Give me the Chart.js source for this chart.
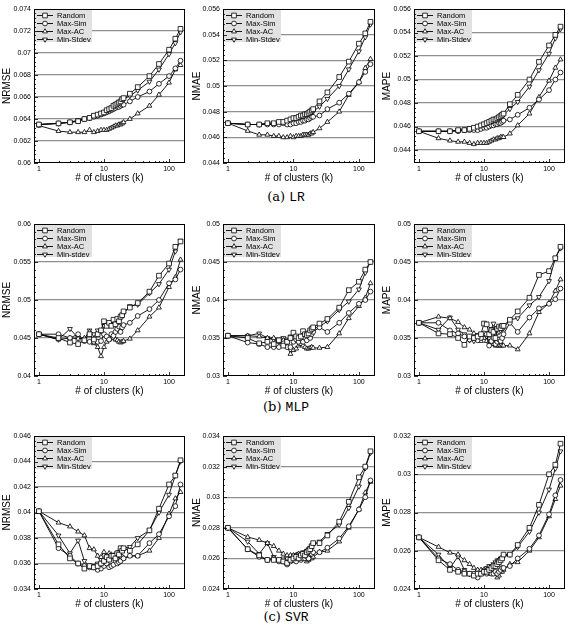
<!DOCTYPE html>
<html>
<head>
<meta charset="utf-8">
<script src="https://cdn.jsdelivr.net/npm/chart.js@4.4.1/dist/chart.umd.min.js"></script>
<style>
  body { margin: 0; background: #fff; width: 572px; height: 629px; position: relative; overflow: hidden; }
  canvas { position: absolute; }
  .cap { position: absolute; left: 0; width: 572px; text-align: center; font: 13px "DejaVu Serif", "Liberation Serif", serif; line-height: 16px; color: #000; }
  .cap .tt { font-family: "Liberation Mono", "DejaVu Sans Mono", monospace; }
</style>
</head>
<body>
<div class="cap" style="top:189px">(a) <span class="tt">LR</span></div>
<div class="cap" style="top:399px">(b) <span class="tt">MLP</span></div>
<div class="cap" style="top:609px">(c) <span class="tt">SVR</span></div>
<script>
// number of clusters (x values, shared by every panel)
const K = [1,2,3,4,5,6,7,8,9,10,11,12,13,14,15,16,17,18,19,20,25,33,50,70,100,125,150];

const NAMES = ['Random', 'Max-Sim', 'Max-AC', 'Min-Stdev'];
const NAMES_MLP_NRMSE = ['Random', 'Max-Sim', 'Max-AC', 'Min-stdev'];
const X_TICKS = [1, 10, 100];

// ---- (a) LR ----
const LR_NRMSE_TICKS = ['0.06','0.062','0.064','0.066','0.068','0.07','0.072','0.074'];
const LR_NRMSE_RANDOM = [.0635,.0636,.0637,.0638,.0640,.0641,.0643,.0644,.0645,.0646,.0648,.0649,.0650,.0652,.0653,.0654,.0655,.0656,.0658,.0659,.0663,.0669,.0679,.0690,.0703,.0713,.0722];
const LR_NRMSE_MAXSIM = [.0635,.0636,.0637,.0638,.0640,.0641,.0642,.0643,.0644,.0645,.0646,.0647,.0648,.0649,.0650,.0651,.0651,.0652,.0653,.0653,.0656,.0660,.0665,.0672,.0679,.0686,.0693];
const LR_NRMSE_MAXAC = [.0634,.0629,.0628,.0628,.0628,.0630,.0628,.0629,.0630,.0630,.0630,.0631,.0632,.0633,.0634,.0634,.0635,.0635,.0636,.0637,.0640,.0645,.0652,.0662,.0673,.0685,.0689];
const LR_NRMSE_MINSTD = [.0635,.0636,.0637,.0639,.0640,.0641,.0643,.0644,.0645,.0646,.0647,.0648,.0650,.0651,.0652,.0653,.0654,.0655,.0656,.0658,.0661,.0666,.0674,.0685,.0699,.0709,.0719];

const LR_NMAE_TICKS = ['0.044','0.046','0.048','0.05','0.052','0.054','0.056'];
const LR_NMAE_RANDOM = [.0471,.0470,.0470,.0471,.0471,.0472,.0472,.0473,.0474,.0475,.0475,.0476,.0477,.0477,.0478,.0478,.0479,.0480,.0481,.0482,.0488,.0495,.0507,.0519,.0533,.0541,.0550];
const LR_NMAE_MAXSIM = [.0471,.0470,.0470,.0470,.0470,.0470,.0471,.0470,.0470,.0471,.0471,.0472,.0472,.0473,.0473,.0474,.0474,.0475,.0476,.0476,.0477,.0482,.0487,.0494,.0503,.0511,.0517];
const LR_NMAE_MAXAC = [.0471,.0465,.0462,.0462,.0461,.0461,.0460,.0460,.0461,.0460,.0461,.0461,.0461,.0462,.0462,.0462,.0462,.0463,.0463,.0464,.0467,.0472,.0480,.0493,.0503,.0514,.0521];
const LR_NMAE_MINSTD = [.0471,.0470,.0470,.0471,.0471,.0471,.0472,.0472,.0473,.0474,.0474,.0475,.0476,.0476,.0477,.0477,.0478,.0479,.0479,.0480,.0484,.0490,.0500,.0513,.0527,.0538,.0548];

const LR_MAPE_TICKS = ['0.044','0.046','0.048','0.05','0.052','0.054','0.056'];
const LR_MAPE_RANDOM = [.0456,.0456,.0456,.0457,.0457,.0458,.0459,.0460,.0461,.0462,.0463,.0464,.0465,.0466,.0466,.0467,.0468,.0469,.0470,.0471,.0479,.0487,.0500,.0515,.0529,.0538,.0545];
const LR_MAPE_MAXSIM = [.0456,.0456,.0456,.0456,.0457,.0457,.0457,.0457,.0458,.0459,.0459,.0460,.0461,.0461,.0462,.0462,.0463,.0463,.0464,.0465,.0466,.0470,.0476,.0483,.0491,.0500,.0506];
const LR_MAPE_MAXAC = [.0456,.0450,.0448,.0447,.0447,.0446,.0445,.0446,.0446,.0446,.0446,.0447,.0448,.0449,.0449,.0450,.0450,.0451,.0451,.0451,.0454,.0461,.0471,.0485,.0499,.0510,.0517];
const LR_MAPE_MINSTD = [.0456,.0456,.0456,.0457,.0457,.0458,.0458,.0459,.0460,.0460,.0461,.0462,.0463,.0464,.0464,.0465,.0466,.0467,.0468,.0470,.0475,.0481,.0494,.0508,.0522,.0535,.0543];

// ---- (b) MLP ----
const MLP_NRMSE_TICKS = ['0.04','0.045','0.05','0.055','0.06'];
const MLP_NRMSE_RANDOM = [.0455,.0450,.0444,.0442,.0447,.0455,.0448,.0455,.0460,.0472,.0466,.0470,.0466,.0474,.0468,.0475,.0472,.0478,.0480,.0485,.0490,.0496,.0511,.0532,.0548,.0570,.0577];
const MLP_NRMSE_MAXSIM = [.0455,.0455,.0450,.0455,.0446,.0445,.0445,.0445,.0446,.0455,.0452,.0448,.0455,.0453,.0458,.0462,.0465,.0458,.0464,.0467,.0470,.0479,.0488,.0500,.0522,.0527,.0540];
const MLP_NRMSE_MAXAC = [.0455,.0448,.0450,.0449,.0450,.0458,.0443,.0438,.0426,.0438,.0445,.0448,.0450,.0450,.0448,.0447,.0445,.0444,.0445,.0446,.0449,.0460,.0478,.0490,.0517,.0530,.0553];
const MLP_NRMSE_MINSTD = [.0455,.0448,.0462,.0450,.0448,.0460,.0455,.0460,.0459,.0466,.0468,.0467,.0469,.0470,.0471,.0470,.0473,.0476,.0479,.0482,.0492,.0494,.0509,.0521,.0540,.0564,.0578];

const MLP_NMAE_TICKS = ['0.03','0.035','0.04','0.045','0.05'];
const MLP_NMAE_RANDOM = [.0353,.0350,.0343,.0345,.0342,.0347,.0340,.0345,.0350,.0357,.0352,.0350,.0352,.0359,.0355,.0354,.0356,.0360,.0362,.0364,.0369,.0375,.0390,.0413,.0424,.0440,.0450];
const MLP_NMAE_MAXSIM = [.0353,.0344,.0342,.0338,.0338,.0338,.0343,.0338,.0338,.0345,.0348,.0345,.0349,.0345,.0350,.0347,.0352,.0350,.0355,.0358,.0364,.0358,.0370,.0383,.0395,.0400,.0411];
const MLP_NMAE_MAXAC = [.0353,.0353,.0352,.0350,.0350,.0345,.0347,.0340,.0329,.0334,.0336,.0340,.0342,.0340,.0338,.0336,.0336,.0337,.0338,.0337,.0337,.0338,.0356,.0376,.0392,.0403,.0422];
const MLP_NMAE_MINSTD = [.0353,.0353,.0356,.0350,.0348,.0345,.0350,.0347,.0352,.0350,.0351,.0352,.0351,.0350,.0353,.0355,.0356,.0358,.0360,.0362,.0365,.0372,.0387,.0398,.0414,.0436,.0450];

const MLP_MAPE_TICKS = ['0.03','0.035','0.04','0.045','0.05'];
const MLP_MAPE_RANDOM = [.0370,.0356,.0355,.0350,.0341,.0352,.0350,.0352,.0355,.0369,.0368,.0355,.0360,.0358,.0350,.0362,.0365,.0363,.0366,.0366,.0374,.0385,.0403,.0433,.0438,.0455,.0470];
const MLP_MAPE_MAXSIM = [.0370,.0370,.0360,.0356,.0352,.0348,.0350,.0347,.0350,.0356,.0355,.0340,.0346,.0350,.0342,.0345,.0348,.0346,.0350,.0355,.0370,.0358,.0377,.0389,.0395,.0401,.0415];
const MLP_MAPE_MAXAC = [.0370,.0378,.0376,.0371,.0364,.0361,.0356,.0350,.0346,.0350,.0346,.0345,.0342,.0342,.0340,.0340,.0340,.0340,.0340,.0340,.0340,.0335,.0356,.0384,.0396,.0412,.0427];
const MLP_MAPE_MINSTD = [.0370,.0361,.0377,.0361,.0355,.0347,.0346,.0354,.0353,.0355,.0352,.0357,.0362,.0369,.0360,.0357,.0358,.0360,.0362,.0363,.0374,.0376,.0393,.0404,.0425,.0455,.0468];

// ---- (c) SVR ----
const SVR_NRMSE_TICKS = ['0.034','0.036','0.038','0.04','0.042','0.044','0.046'];
const SVR_NRMSE_RANDOM = [.0401,.0375,.0364,.0360,.0356,.0358,.0357,.0358,.0360,.0362,.0365,.0363,.0366,.0366,.0364,.0368,.0367,.0372,.0370,.0372,.0370,.0375,.0386,.0403,.0422,.0429,.0441];
const SVR_NRMSE_MAXSIM = [.0401,.0372,.0366,.0360,.0358,.0357,.0357,.0355,.0356,.0358,.0360,.0357,.0358,.0359,.0362,.0360,.0361,.0362,.0365,.0364,.0366,.0366,.0376,.0383,.0397,.0405,.0422];
const SVR_NRMSE_MAXAC = [.0401,.0392,.0389,.0385,.0382,.0372,.0371,.0366,.0365,.0369,.0366,.0368,.0367,.0366,.0364,.0364,.0368,.0366,.0365,.0364,.0366,.0366,.0370,.0380,.0399,.0411,.0416];
const SVR_NRMSE_MINSTD = [.0401,.0382,.0368,.0378,.0362,.0358,.0358,.0360,.0363,.0364,.0365,.0366,.0366,.0365,.0367,.0368,.0369,.0370,.0371,.0372,.0373,.0380,.0386,.0400,.0414,.0429,.0440];

const SVR_NMAE_TICKS = ['0.024','0.026','0.028','0.03','0.032','0.034'];
const SVR_NMAE_RANDOM = [.0280,.0266,.0262,.0259,.0259,.0259,.0258,.0257,.0259,.0260,.0261,.0260,.0262,.0263,.0262,.0264,.0265,.0266,.0268,.0270,.0270,.0275,.0284,.0297,.0313,.0320,.0330];
const SVR_NMAE_MAXSIM = [.0280,.0266,.0261,.0259,.0260,.0258,.0258,.0256,.0258,.0259,.0258,.0260,.0259,.0260,.0260,.0261,.0260,.0263,.0263,.0264,.0264,.0267,.0273,.0281,.0292,.0300,.0311];
const SVR_NMAE_MAXAC = [.0280,.0274,.0272,.0270,.0268,.0265,.0263,.0262,.0262,.0262,.0262,.0263,.0260,.0260,.0260,.0258,.0259,.0260,.0260,.0261,.0264,.0265,.0271,.0280,.0292,.0303,.0310];
const SVR_NMAE_MINSTD = [.0280,.0271,.0263,.0270,.0261,.0259,.0260,.0260,.0261,.0262,.0262,.0263,.0263,.0264,.0264,.0265,.0266,.0267,.0268,.0269,.0271,.0276,.0282,.0293,.0307,.0319,.0329];

const SVR_MAPE_TICKS = ['0.024','0.026','0.028','0.03','0.032'];
const SVR_MAPE_RANDOM = [.0267,.0255,.0250,.0249,.0248,.0248,.0247,.0248,.0248,.0249,.0249,.0250,.0251,.0252,.0252,.0253,.0254,.0255,.0256,.0258,.0258,.0263,.0272,.0284,.0300,.0305,.0316];
const SVR_MAPE_MAXSIM = [.0267,.0256,.0253,.0250,.0249,.0248,.0248,.0246,.0248,.0249,.0248,.0249,.0248,.0248,.0249,.0248,.0249,.0250,.0251,.0251,.0252,.0256,.0261,.0268,.0279,.0289,.0297];
const SVR_MAPE_MAXAC = [.0267,.0262,.0259,.0258,.0255,.0253,.0251,.0250,.0250,.0250,.0250,.0248,.0248,.0248,.0248,.0246,.0247,.0249,.0249,.0250,.0253,.0254,.0260,.0267,.0278,.0287,.0294];
const SVR_MAPE_MINSTD = [.0267,.0258,.0251,.0257,.0250,.0248,.0248,.0249,.0249,.0250,.0251,.0252,.0252,.0253,.0254,.0255,.0255,.0256,.0256,.0257,.0258,.0262,.0270,.0280,.0292,.0303,.0312];

// marker styles: square, circle, triangle, inverted triangle
const STYLES = [
  { pointStyle: 'rect', radius: 3.3, rotation: 0 },
  { pointStyle: 'circle', radius: 2.4, rotation: 0 },
  { pointStyle: 'triangle', radius: 2.8, rotation: 0 },
  { pointStyle: 'triangle', radius: 2.8, rotation: 180 }
];

// page layout (px) for grid cells
const COLS = [ { left: 0, w: 190, L: 34, R: 185 }, { left: 190, w: 190, L: 223, R: 375 }, { left: 380, w: 192, L: 414, R: 565 } ];
const ROWS = [ { top: 0, T: 9, B: 163 }, { top: 210, T: 224, B: 376 }, { top: 420, T: 436, B: 589 } ];
const X_AXIS_H = 21;

const PANELS = [
  { r: 0, c: 0, title: 'NRMSE', ticks: LR_NRMSE_TICKS, min: 0.06, max: 0.074, names: NAMES, data: [LR_NRMSE_RANDOM, LR_NRMSE_MAXSIM, LR_NRMSE_MAXAC, LR_NRMSE_MINSTD] },
  { r: 0, c: 1, title: 'NMAE', ticks: LR_NMAE_TICKS, min: 0.044, max: 0.056, names: NAMES, data: [LR_NMAE_RANDOM, LR_NMAE_MAXSIM, LR_NMAE_MAXAC, LR_NMAE_MINSTD] },
  { r: 0, c: 2, title: 'MAPE', ticks: LR_MAPE_TICKS, min: 0.0429, max: 0.056, names: NAMES, data: [LR_MAPE_RANDOM, LR_MAPE_MAXSIM, LR_MAPE_MAXAC, LR_MAPE_MINSTD] },
  { r: 1, c: 0, title: 'NRMSE', ticks: MLP_NRMSE_TICKS, min: 0.04, max: 0.06, names: NAMES_MLP_NRMSE, data: [MLP_NRMSE_RANDOM, MLP_NRMSE_MAXSIM, MLP_NRMSE_MAXAC, MLP_NRMSE_MINSTD] },
  { r: 1, c: 1, title: 'NMAE', ticks: MLP_NMAE_TICKS, min: 0.03, max: 0.05, names: NAMES, data: [MLP_NMAE_RANDOM, MLP_NMAE_MAXSIM, MLP_NMAE_MAXAC, MLP_NMAE_MINSTD] },
  { r: 1, c: 2, title: 'MAPE', ticks: MLP_MAPE_TICKS, min: 0.03, max: 0.05, names: NAMES, data: [MLP_MAPE_RANDOM, MLP_MAPE_MAXSIM, MLP_MAPE_MAXAC, MLP_MAPE_MINSTD] },
  { r: 2, c: 0, title: 'NRMSE', ticks: SVR_NRMSE_TICKS, min: 0.034, max: 0.046, names: NAMES, data: [SVR_NRMSE_RANDOM, SVR_NRMSE_MAXSIM, SVR_NRMSE_MAXAC, SVR_NRMSE_MINSTD] },
  { r: 2, c: 1, title: 'NMAE', ticks: SVR_NMAE_TICKS, min: 0.024, max: 0.034, names: NAMES, data: [SVR_NMAE_RANDOM, SVR_NMAE_MAXSIM, SVR_NMAE_MAXAC, SVR_NMAE_MINSTD] },
  { r: 2, c: 2, title: 'MAPE', ticks: SVR_MAPE_TICKS, min: 0.024, max: 0.032, names: NAMES, data: [SVR_MAPE_RANDOM, SVR_MAPE_MAXSIM, SVR_MAPE_MAXAC, SVR_MAPE_MINSTD] }
];

const FONT = '"Liberation Sans", Arial, Helvetica, sans-serif';
Chart.defaults.font.family = FONT;
Chart.defaults.color = '#000';

// legend box, inward tick marks and the frame
const paperDeco = {
  id: 'paperDeco',
  afterDatasetsDraw(chart, args, opts) {
    const ctx = chart.ctx, a = chart.chartArea;
    const xs = chart.scales.x, ys = chart.scales.y;
    ctx.save();

    // legend
    ctx.fillStyle = '#e1e1e1';
    ctx.fillRect(a.left + 1, a.top + 1, 57, 32);
    ctx.font = '7.5px ' + FONT;
    ctx.textBaseline = 'middle';
    opts.names.forEach((name, i) => {
      const y = a.top + 6.5 + i * 8;
      ctx.strokeStyle = '#000';
      ctx.lineWidth = 0.9;
      ctx.beginPath(); ctx.moveTo(a.left + 3, y); ctx.lineTo(a.left + 19, y); ctx.stroke();
      const st = STYLES[i];
      ctx.fillStyle = '#fff';
      ctx.lineWidth = 0.8;
      Chart.helpers.drawPoint(ctx, { pointStyle: st.pointStyle, rotation: st.rotation, radius: st.radius, borderWidth: 0.8 }, a.left + 11, y);
      ctx.fillStyle = '#000';
      ctx.fillText(name, a.left + 23, y + 0.5);
    });

    // x ticks (inward)
    ctx.strokeStyle = '#000';
    ctx.lineWidth = 0.8;
    ctx.beginPath();
    [1, 10, 100].forEach(d => {
      for (let m = 1; m < 10; m++) {
        const v = d * m;
        if (v < xs.min || v > xs.max) continue;
        const px = Math.round(xs.getPixelForValue(v)) + 0.5;
        const len = m === 1 ? 4 : 2;
        ctx.moveTo(px, a.bottom); ctx.lineTo(px, a.bottom - len);
      }
    });
    // y ticks (inward), 4 minor per interval
    const tv = ys.ticks.map(t => t.value);
    const step = (tv[1] - tv[0]) / 5;
    for (let k = -10; k < 200; k++) {
      const v = tv[0] + k * step;
      if (v < ys.min - 1e-9) continue;
      if (v > ys.max + 1e-9) break;
      const py = Math.round(ys.getPixelForValue(v)) + 0.5;
      const len = (k % 5 === 0) ? 4 : 2;
      ctx.moveTo(a.left, py); ctx.lineTo(a.left + len, py);
    }
    ctx.stroke();

    // frame
    ctx.lineWidth = 1;
    ctx.strokeRect(Math.round(a.left) + 0.5, Math.round(a.top) + 0.5, Math.round(a.width) - 1, Math.round(a.height) - 1);
    ctx.restore();
  }
};

PANELS.forEach(p => {
  const col = COLS[p.c], row = ROWS[p.r];
  const cv = document.createElement('canvas');
  const h = row.B - row.top + X_AXIS_H;
  cv.width = col.w; cv.height = h;
  cv.style.left = col.left + 'px';
  cv.style.top = row.top + 'px';
  cv.style.width = col.w + 'px';
  cv.style.height = h + 'px';
  document.body.appendChild(cv);

  const tickVals = p.ticks.map(Number);
  const datasets = p.data.map((vals, i) => ({
    label: p.names[i],
    data: K.map((k, j) => ({ x: k, y: vals[j] })),
    borderColor: '#000',
    borderWidth: 0.9,
    backgroundColor: '#fff',
    pointStyle: STYLES[i].pointStyle,
    pointRotation: STYLES[i].rotation,
    pointRadius: STYLES[i].radius,
    pointBackgroundColor: '#fff',
    pointBorderColor: '#000',
    pointBorderWidth: 0.8,
    tension: 0
  }));

  new Chart(cv, {
    type: 'line',
    data: { datasets },
    plugins: [paperDeco],
    options: {
      responsive: false,
      animation: false,
      events: [],
      layout: { padding: { left: 0, top: row.T - row.top, right: col.w - (col.R - col.left), bottom: 0 } },
      plugins: {
        legend: { display: false },
        tooltip: { enabled: false },
        paperDeco: { names: p.names }
      },
      scales: {
        x: {
          type: 'logarithmic',
          bounds: 'data',
          min: 0.84,
          max: 176,
          afterBuildTicks: s => { s.ticks = X_TICKS.map(v => ({ value: v })); },
          afterFit: s => { s.height = X_AXIS_H; },
          ticks: { font: { size: 7 }, padding: 2, maxRotation: 0, autoSkip: false, callback: v => String(v) },
          grid: { display: false, drawTicks: false },
          border: { display: false },
          title: { display: true, text: '# of clusters (k)', font: { size: 10 }, padding: { top: 0, bottom: 0 } }
        },
        y: {
          type: 'linear',
          bounds: 'data',
          min: p.min,
          max: p.max,
          afterBuildTicks: s => { s.ticks = tickVals.map(v => ({ value: v })); },
          afterFit: s => { s.width = col.L - col.left; },
          ticks: { font: { size: 7 }, padding: 3, autoSkip: false, callback: (v, i) => p.ticks[i] },
          grid: {
            drawTicks: false,
            lineWidth: 1.3,
            color: ctx => {
              const v = ctx.tick ? ctx.tick.value : null;
              if (v === null || Math.abs(v - p.min) < 1e-9 || Math.abs(v - p.max) < 1e-9) return 'rgba(0,0,0,0)';
              return '#8f8f8f';
            }
          },
          border: { display: false },
          title: { display: true, text: p.title, font: { size: 10 }, padding: { top: 1, bottom: 0 } }
        }
      }
    }
  });
});
</script>
</body>
</html>
